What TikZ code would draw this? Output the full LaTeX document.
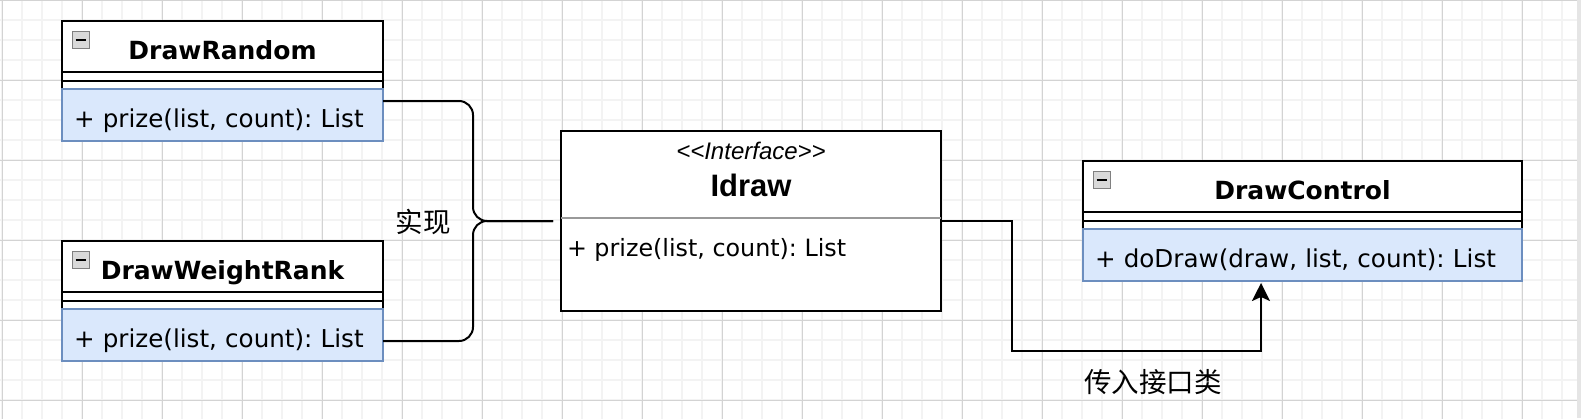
\documentclass[tikz,border=0pt]{standalone}
\usepackage{fontspec}
\usetikzlibrary{positioning,arrows.meta}

\newfontfamily\umlfont{DejaVu Sans}
\newfontfamily\arialfont{Liberation Sans}
\newfontfamily\cjkfont{Noto Sans CJK SC}
\frenchspacing

\definecolor{opsfill}{HTML}{DAE8FC}
\definecolor{opsline}{HTML}{6C8EBF}
\definecolor{gridminor}{HTML}{F3F3F3}
\definecolor{gridmajor}{HTML}{D3D3D3}
\definecolor{divider}{HTML}{999999}

\begin{document}
\begin{tikzpicture}[
    x=1pt, y=-1pt,
    outer sep=0pt,
    classhead/.style = {
      draw,
      line width=2pt,
      fill=white,
      anchor=north west,
      minimum height=51pt,
      inner sep=0pt,
      text height=26pt, text depth=0pt,
      font=\umlfont\bfseries\fontsize{25pt}{30pt}\selectfont
    },
    classgap/.style = {
      draw,
      line width=2pt,
      fill=white,
      minimum height=17pt,
      inner sep=0pt
    },
    classops/.style = {
      draw=opsline,
      line width=2pt,
      fill=opsfill,
      minimum height=52pt,
      inner xsep=12pt, inner ysep=0pt,
      align=left,
      text height=24.6pt, text depth=0pt,
      font=\umlfont\fontsize{24.6pt}{29pt}\selectfont
    },
    iconbox/.style = {
      draw=gray,
      line width=1pt,
      fill=gray!30,
      minimum size=17pt,
      inner sep=0pt
    },
    iface/.style = {
      draw,
      line width=2pt,
      fill=white,
      anchor=north west,
      inner sep=0pt
    },
    brace/.style = {draw, line width=2pt, rounded corners=14pt},
    passes/.style = {draw, line width=2pt, -{Stealth[length=18pt,width=18pt,inset=4pt]}},
    edgelabel/.style = {font=\cjkfont\fontsize{27.5pt}{32pt}\selectfont}
    ]

    \useasboundingbox (0,0) rectangle (1581,418);
    \fill[white] (0,0) rectangle (1581,418);
    \begin{scope}
      \clip (0,0) rectangle (1577,418);
      \draw[gridminor, line width=2pt, xshift=2pt] (-2,0) grid[step=20pt] (1580,420);
      \draw[gridmajor, line width=1pt, xshift=2pt] (-2,0) grid[step=80pt] (1580,420);
    \end{scope}
    \fill[black!10] (1577,0) rectangle (1581,418);

    \node[classhead, minimum width=321pt] (rnd) at (62,21) { DrawRandom };
    \node[classgap, minimum width=321pt, below=0pt of rnd] (rnd-g) {};
    \node[classops, text width=297pt, below=0pt of rnd-g] (rnd-m) { + prize(list, count): List };
    \node[iconbox, below right=10pt and 10pt of rnd.north west] (rnd-i) {\rule{10pt}{2pt}};

    \node[classhead, minimum width=321pt] (wr) at (62,241) { DrawWeightRank };
    \node[classgap, minimum width=321pt, below=0pt of wr] (wr-g) {};
    \node[classops, text width=297pt, below=0pt of wr-g] (wr-m) { + prize(list, count): List };
    \node[iconbox, below right=10pt and 10pt of wr.north west] (wr-i) {\rule{10pt}{2pt}};

    \node[classhead, minimum width=439pt] (dc) at (1083,161) { DrawControl };
    \node[classgap, minimum width=439pt, below=0pt of dc] (dc-g) {};
    \node[classops, text width=415pt, below=0pt of dc-g] (dc-m) { + doDraw(draw, list, count): List };
    \node[iconbox, below right=10pt and 10pt of dc.north west] (dc-i) {\rule{10pt}{2pt}};

    \foreach \g in {rnd-g, wr-g, dc-g}
      \draw[line width=2pt] ([yshift=-8.5pt]\g.north west) -- ([yshift=-8.5pt]\g.north east);

    \node[iface, minimum width=380pt, minimum height=180pt] (idraw) at (561,131) {};
    \node[anchor=base, inner sep=0pt, font=\arialfont\itshape\fontsize{24pt}{28pt}\selectfont]
      (idraw-s) at ([yshift=-28.3pt]idraw.north) { {<}{<}Interface{>}{>} };
    \node[anchor=base, inner sep=0pt, font=\arialfont\bfseries\fontsize{31pt}{36pt}\selectfont]
      (idraw-t) at ([yshift=-65.7pt]idraw.north) { Idraw };
    \draw[divider, line width=2pt] ([yshift=-87pt]idraw.north west) -- ([yshift=-87pt]idraw.north east);
    \node[anchor=base west, inner sep=0pt, font=\umlfont\fontsize{23.8pt}{28pt}\selectfont]
      (idraw-m) at ([xshift=6pt,yshift=-125.7pt]idraw.north west) { + prize(list, count): List };

    \coordinate (join) at ([xshift=-88pt]idraw.west);
    \draw[brace] ([yshift=-12pt]rnd-m.north east) -| (join) -- ([xshift=-8pt]idraw.west);
    \draw[brace] ([yshift=20pt]wr-m.south east) -| (join) -- ([xshift=-8pt]idraw.west);
    \node[edgelabel] (impl) at (423,222) { 实现 };

    \coordinate (tip) at ([xshift=-41.5pt,yshift=-2pt]dc-m.south);
    \draw[passes] (idraw.east) -- ++(71,0) -- ++(0,130) -| (tip);
    \node[edgelabel] (pass) at (1153,382) { 传入接口类 };

\end{tikzpicture}
\end{document}
